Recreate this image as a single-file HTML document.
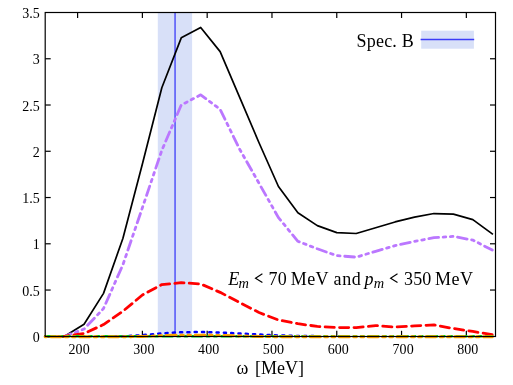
<!DOCTYPE html>
<html><head><meta charset="utf-8"><title>plot</title>
<style>
html,body{margin:0;padding:0;background:#fff;}
body{width:513px;height:385px;overflow:hidden;}
svg{display:block;will-change:transform;}
text{font-family:"Liberation Serif",serif;fill:#000;}
.t{font-size:14px;}
.l{font-size:18px;}
</style></head><body>
<svg width="513" height="385" viewBox="0 0 513 385">
<rect x="0" y="0" width="513" height="385" fill="#ffffff"/>

<rect x="157.8" y="12.5" width="34.3" height="323.8" fill="#d8e0f8"/>
<line x1="175.05" y1="12.5" x2="175.05" y2="336.3" stroke="#3c3cf8" stroke-width="1.3"/>
<g stroke="#000" stroke-width="1.2" fill="none">
<line x1="77.60" y1="336.3" x2="77.60" y2="330.8"/>
<line x1="77.60" y1="12.5" x2="77.60" y2="18.0"/>
<line x1="142.39" y1="336.3" x2="142.39" y2="330.8"/>
<line x1="142.39" y1="12.5" x2="142.39" y2="18.0"/>
<line x1="207.18" y1="336.3" x2="207.18" y2="330.8"/>
<line x1="207.18" y1="12.5" x2="207.18" y2="18.0"/>
<line x1="271.97" y1="336.3" x2="271.97" y2="330.8"/>
<line x1="271.97" y1="12.5" x2="271.97" y2="18.0"/>
<line x1="336.76" y1="336.3" x2="336.76" y2="330.8"/>
<line x1="336.76" y1="12.5" x2="336.76" y2="18.0"/>
<line x1="401.55" y1="336.3" x2="401.55" y2="330.8"/>
<line x1="401.55" y1="12.5" x2="401.55" y2="18.0"/>
<line x1="466.34" y1="336.3" x2="466.34" y2="330.8"/>
<line x1="466.34" y1="12.5" x2="466.34" y2="18.0"/>
<line x1="45.2" y1="290.04" x2="50.7" y2="290.04"/>
<line x1="495.5" y1="290.04" x2="490.0" y2="290.04"/>
<line x1="45.2" y1="243.79" x2="50.7" y2="243.79"/>
<line x1="495.5" y1="243.79" x2="490.0" y2="243.79"/>
<line x1="45.2" y1="197.53" x2="50.7" y2="197.53"/>
<line x1="495.5" y1="197.53" x2="490.0" y2="197.53"/>
<line x1="45.2" y1="151.27" x2="50.7" y2="151.27"/>
<line x1="495.5" y1="151.27" x2="490.0" y2="151.27"/>
<line x1="45.2" y1="105.01" x2="50.7" y2="105.01"/>
<line x1="495.5" y1="105.01" x2="490.0" y2="105.01"/>
<line x1="45.2" y1="58.76" x2="50.7" y2="58.76"/>
<line x1="495.5" y1="58.76" x2="490.0" y2="58.76"/>
</g>
<g fill="none" stroke-linejoin="round">
<path d="M45.20,336.30 L64.64,336.30 L84.07,324.18 L103.51,293.37 L122.95,238.23 L142.39,164.04 L161.82,87.71 L181.26,37.85 L200.70,27.49 L220.14,51.63 L239.57,97.15 L259.01,142.76 L278.45,186.52 L297.89,212.70 L317.32,225.65 L336.76,232.59 L356.20,233.52 L375.64,227.69 L395.07,221.95 L414.51,217.14 L433.95,213.53 L453.39,214.18 L472.82,219.64 L492.26,233.89" stroke="#000" stroke-width="1.7" stroke-linecap="square"/>
<path d="M45.20,336.30 L64.64,336.30 L84.07,328.99 L103.51,308.55 L122.95,264.60 L142.39,207.71 L161.82,150.35 L181.26,105.01 L200.70,94.84 L220.14,109.36 L239.57,149.05 L259.01,183.28 L278.45,217.60 L297.89,241.29 L317.32,248.78 L336.76,255.63 L356.20,257.11 L375.64,251.37 L395.07,245.64 L414.51,241.38 L433.95,237.68 L453.39,236.38 L472.82,240.09 L492.26,250.08" stroke="#bb77ff" stroke-width="2.8" stroke-linecap="round" stroke-dasharray="9.8 4.6 2.6 4.6 2.6 4.65" stroke-dashoffset="12.4"/>
<path d="M45.20,336.30 L64.64,336.30 L84.07,333.52 L103.51,324.55 L122.95,311.23 L142.39,295.04 L161.82,284.58 L181.26,282.64 L200.70,283.94 L220.14,292.36 L239.57,302.53 L259.01,312.52 L278.45,320.02 L297.89,323.72 L317.32,326.40 L336.76,327.60 L356.20,327.60 L375.64,325.57 L395.07,327.05 L414.51,325.85 L433.95,324.92 L453.39,328.53 L472.82,331.49 L492.26,334.73" stroke="#ff0000" stroke-width="2.8" stroke-linecap="round" stroke-dasharray="9.2 5.25"/>
<path d="M113.23,336.30 L122.95,336.30 L142.39,335.19 L161.82,333.34 L181.26,332.23 L200.70,332.04 L220.14,332.51 L239.57,333.52 L259.01,334.45 L278.45,335.47 L297.89,335.93 L317.32,336.11" stroke="#0000ff" stroke-width="2.5" stroke-linecap="round" stroke-dasharray="2.1 5.2" stroke-dashoffset="6.0"/>
<path d="M45.20,336.30 L64.64,336.30 L84.07,336.30 L103.51,336.30 L122.95,336.30 L142.39,336.30 L161.82,336.30 L181.26,336.30 L200.70,336.30 L220.14,336.30 L239.57,336.30 L259.01,336.30 L278.45,336.30 L297.89,336.30 L317.32,336.30 L336.76,336.30 L356.20,336.30 L375.64,336.30 L395.07,336.30 L414.51,336.30 L433.95,336.30 L453.39,336.30 L472.82,336.30 L492.26,336.30" stroke="#00e820" stroke-width="2.4" stroke-linecap="round" stroke-dasharray="10 4.7 2.65 4.7 2.65 4.7" stroke-dashoffset="0.2"/>
<path d="M45.20,336.76 L64.64,336.76 L84.07,336.76 L103.51,336.76 L122.95,336.76 L142.39,336.49 L161.82,335.74 L181.26,335.19 L200.70,335.19 L220.14,335.47 L239.57,335.93 L259.01,336.49 L278.45,336.67 L297.89,336.76 L317.32,336.76 L336.76,336.76 L356.20,336.76 L375.64,336.76 L395.07,336.76 L414.51,336.76 L433.95,336.76 L453.39,336.76 L472.82,336.76 L492.26,336.76" stroke="#ffa500" stroke-width="3" stroke-linecap="round" stroke-dasharray="9.8 4.6 2.6 4.6 2.6 4.65" stroke-dashoffset="23.15"/>
</g>
<rect x="45.2" y="12.5" width="450.3" height="324.00" stroke="#000" stroke-width="1.2" fill="none"/>
<text class="t" x="79.1" y="354.3" text-anchor="middle" letter-spacing="0.1">200</text>
<text class="t" x="143.9" y="354.3" text-anchor="middle" letter-spacing="0.1">300</text>
<text class="t" x="208.7" y="354.3" text-anchor="middle" letter-spacing="0.1">400</text>
<text class="t" x="273.5" y="354.3" text-anchor="middle" letter-spacing="0.1">500</text>
<text class="t" x="338.3" y="354.3" text-anchor="middle" letter-spacing="0.1">600</text>
<text class="t" x="403.1" y="354.3" text-anchor="middle" letter-spacing="0.1">700</text>
<text class="t" x="467.8" y="354.3" text-anchor="middle" letter-spacing="0.1">800</text>
<text class="t" x="39.8" y="341.8" text-anchor="end">0</text>
<text class="t" x="39.8" y="295.5" text-anchor="end">0.5</text>
<text class="t" x="39.8" y="249.3" text-anchor="end">1</text>
<text class="t" x="39.8" y="203.0" text-anchor="end">1.5</text>
<text class="t" x="39.8" y="156.8" text-anchor="end">2</text>
<text class="t" x="39.8" y="110.5" text-anchor="end">2.5</text>
<text class="t" x="39.8" y="64.3" text-anchor="end">3</text>
<text class="t" x="39.8" y="18.0" text-anchor="end">3.5</text>
<text class="l" x="236.5" y="374.1">ω</text>
<text class="l" x="254.9" y="374.4">[MeV]</text>
<text class="l" x="356.5" y="46.6" letter-spacing="0.22">Spec. B</text>
<rect x="421.2" y="30.7" width="52.7" height="18.0" fill="#d8e0f8"/>
<line x1="420.6" y1="39.55" x2="474.2" y2="39.55" stroke="#3c3cf8" stroke-width="1.45"/>
<text class="l" x="228.30" y="284.50" font-style="italic">E</text>
<text x="238.50" y="288.20" font-style="italic" style="font-size:14.4px">m</text>
<path d="M262.40,273.80 L255.50,278.20 L262.40,282.60" fill="none" stroke="#000" stroke-width="1.15" stroke-linejoin="miter"/>
<text class="l" x="268.40" y="284.50" letter-spacing="0.3">70</text>
<text class="l" x="290.70" y="284.50" letter-spacing="0.45">MeV</text>
<text class="l" x="333.60" y="284.50" letter-spacing="0.55">and</text>
<text class="l" x="364.60" y="284.50" font-style="italic">p</text>
<text x="373.80" y="288.20" font-style="italic" style="font-size:14.4px">m</text>
<path d="M397.50,273.80 L390.60,278.20 L397.50,282.60" fill="none" stroke="#000" stroke-width="1.15" stroke-linejoin="miter"/>
<text class="l" x="404.10" y="284.50" letter-spacing="0.1">350</text>
<text class="l" x="434.90" y="284.50" letter-spacing="0.6">MeV</text>
</svg></body></html>
